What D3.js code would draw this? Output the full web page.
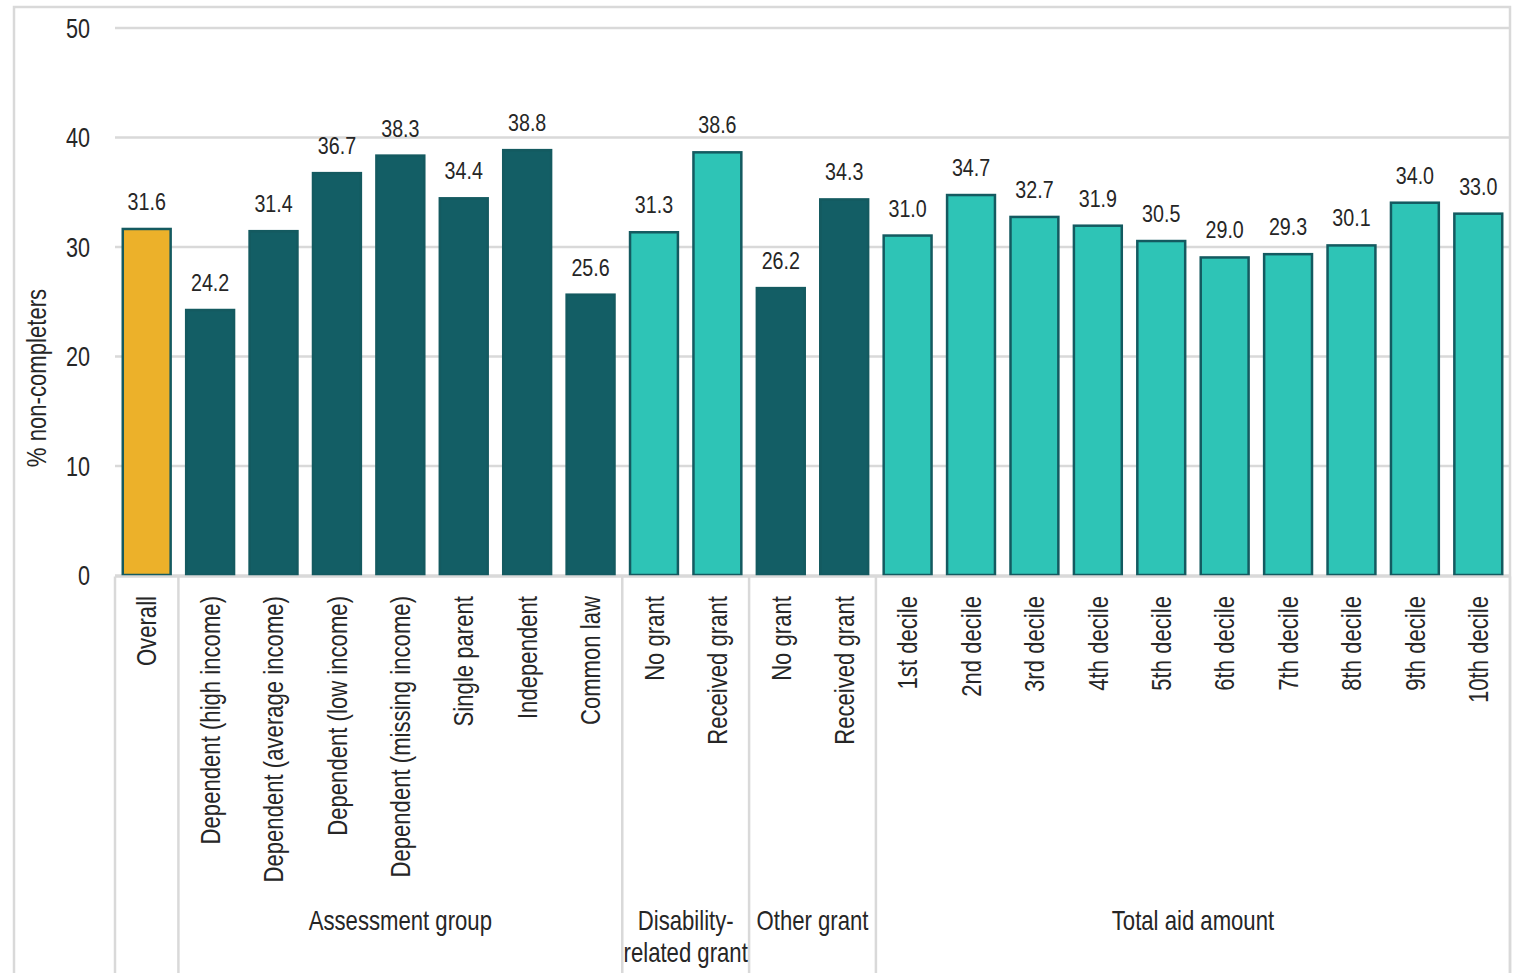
<!DOCTYPE html>
<html>
<head>
<meta charset="utf-8">
<script src="https://cdn.jsdelivr.net/npm/d3@7"></script>
<style>
  html, body { margin: 0; padding: 0; background: #fff; }
  svg { display: block; }
  text { font-family: "Liberation Sans", Arial, sans-serif; fill: #262626; }
</style>
</head>
<body>
<svg id="chart" width="1521" height="973"></svg>
<script>
// Share of non-completers by student characteristic
const categories = [
  "Overall",
  "Dependent (high income)", "Dependent (average income)", "Dependent (low income)",
  "Dependent (missing income)", "Single parent", "Independent", "Common law",
  "No grant", "Received grant",
  "No grant", "Received grant",
  "1st decile", "2nd decile", "3rd decile", "4th decile", "5th decile",
  "6th decile", "7th decile", "8th decile", "9th decile", "10th decile"
];
const values = [
  31.6,
  24.2, 31.4, 36.7, 38.3, 34.4, 38.8, 25.6,
  31.3, 38.6,
  26.2, 34.3,
  31.0, 34.7, 32.7, 31.9, 30.5, 29.0, 29.3, 30.1, 34.0, 33.0
];
// colour class of each bar
const barKind = [
  "overall",
  "dark", "dark", "dark", "dark", "dark", "dark", "dark",
  "light", "light",
  "dark", "dark",
  "light", "light", "light", "light", "light", "light", "light", "light", "light", "light"
];
// groups: label lines, first index, last index
const groupLabels = [["Assessment group"], ["Disability-", "related grant"], ["Other grant"], ["Total aid amount"]];
const groupStart = [1, 8, 10, 12];
const groupEnd = [7, 9, 11, 21];
const yTicks = [0, 10, 20, 30, 40, 50];
const yTitle = "% non-completers";

const colors = { overall: "#ecb12a", dark: "#135e65", light: "#2ec4b6" };
const strokeColor = "#145a60";
const gridColor = "#d9d9d9";
const narrow = 0.82; // horizontal condensing of the typeface

const svg = d3.select("#chart");
const plotLeft = 115, plotRight = 1510, plotTop = 27.5, plotBase = 575, frameBottom = 985;

const x = d3.scaleBand()
  .domain(d3.range(categories.length))
  .range([plotLeft, plotRight])
  .paddingInner(0.245)
  .paddingOuter(0.1225);
const y = d3.scaleLinear().domain([0, 50]).range([plotBase, plotTop]);

// outer frame
svg.append("rect")
  .attr("x", 14).attr("y", 7)
  .attr("width", plotRight - 14).attr("height", frameBottom)
  .attr("fill", "none").attr("stroke", gridColor).attr("stroke-width", 2.5);

// horizontal gridlines and tick labels via the axis generator
const yAxis = d3.axisLeft(y).tickValues(yTicks).tickSize(-(plotRight - plotLeft)).tickFormat(d3.format("d"));
const gy = svg.append("g").attr("transform", `translate(${plotLeft},0)`).call(yAxis);
gy.select(".domain").remove();
gy.selectAll(".tick line").attr("stroke", gridColor).attr("stroke-width", 2.5);
gy.selectAll(".tick text")
  .attr("font-size", 27)
  .attr("fill", "#262626")
  .attr("font-family", null)
  .attr("x", -25 / 0.8)
  .attr("dy", "0.36em")
  .attr("transform", "scale(0.8,1)");

// y-axis title
svg.append("text")
  .attr("transform", `translate(46,378) rotate(-90) scale(${narrow},1)`)
  .attr("text-anchor", "middle")
  .attr("font-size", 27)
  .text(yTitle);

// bars
svg.append("g").selectAll("rect")
  .data(values)
  .join("rect")
  .attr("x", (d, i) => x(i))
  .attr("y", d => y(d))
  .attr("width", x.bandwidth())
  .attr("height", d => y(0) - y(d))
  .attr("fill", (d, i) => colors[barKind[i]])
  .attr("stroke", strokeColor)
  .attr("stroke-width", 2.5);

// value labels
svg.append("g").selectAll("text")
  .data(values)
  .join("text")
  .attr("transform", (d, i) => `translate(${x(i) + x.bandwidth() / 2},${y(d) - 19}) scale(${narrow},1)`)
  .attr("text-anchor", "middle")
  .attr("font-size", 24)
  .attr("fill", "#333")
  .text(d => d3.format(".1f")(d));

// category axis baseline
svg.append("line")
  .attr("x1", plotLeft).attr("x2", plotRight)
  .attr("y1", plotBase + 1.5).attr("y2", plotBase + 1.5)
  .attr("stroke", gridColor).attr("stroke-width", 2.5);

// group separators
const separators = [plotLeft, ...groupStart.map(s => x(s) - x.step() * x.paddingInner() / 2), plotRight];
svg.append("g").selectAll("line")
  .data(separators)
  .join("line")
  .attr("x1", d => d).attr("x2", d => d)
  .attr("y1", plotBase + 1.5).attr("y2", frameBottom)
  .attr("stroke", gridColor).attr("stroke-width", 2.5);

// rotated category labels
svg.append("g").selectAll("text")
  .data(categories)
  .join("text")
  .attr("transform", (d, i) => `translate(${x(i) + x.bandwidth() / 2},596) rotate(-90) scale(${narrow},1)`)
  .attr("text-anchor", "end")
  .attr("dy", "0.36em")
  .attr("font-size", 27)
  .text(d => d);

// group labels
groupLabels.forEach((lines, g) => {
  const cx = (x(groupStart[g]) + x(groupEnd[g]) + x.bandwidth()) / 2;
  const t = svg.append("text")
    .attr("transform", `translate(${cx},930) scale(${narrow},1)`)
    .attr("text-anchor", "middle")
    .attr("font-size", 27);
  lines.forEach((ln, k) => {
    t.append("tspan").attr("x", 0).attr("dy", k === 0 ? 0 : 32).text(ln);
  });
});
</script>
</body>
</html>
